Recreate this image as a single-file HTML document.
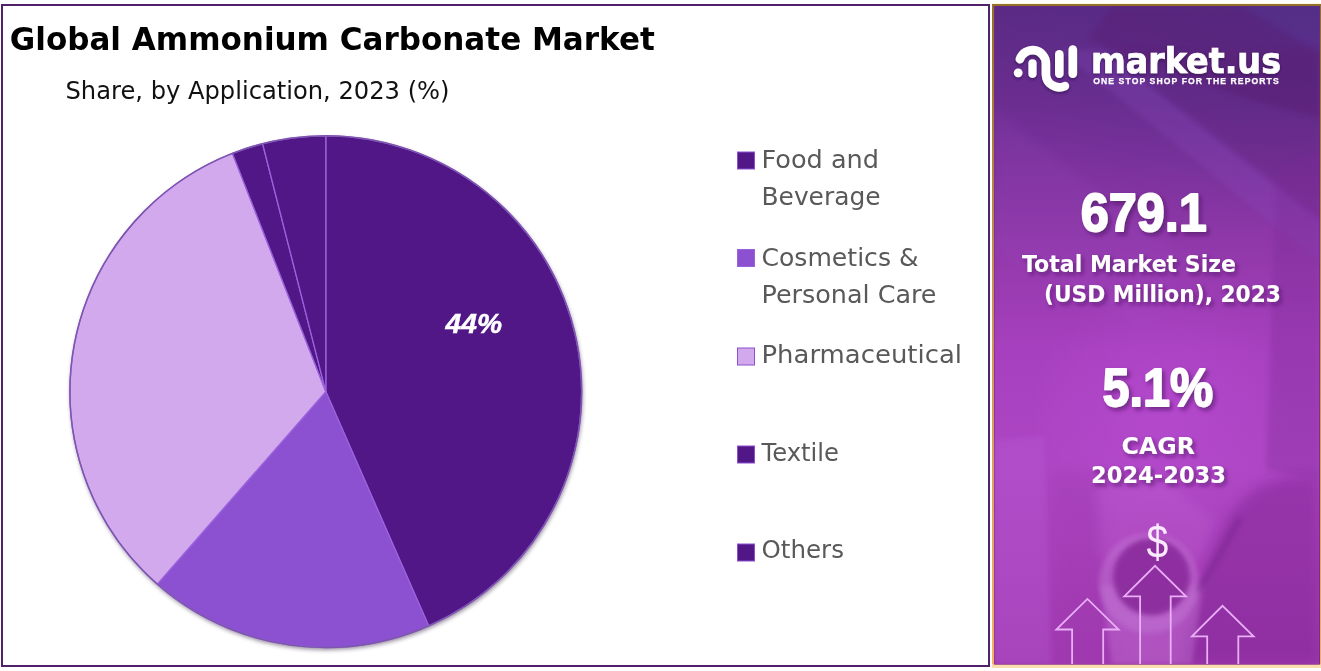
<!DOCTYPE html>
<html lang="en">
<head>
<meta charset="utf-8">
<title>Global Ammonium Carbonate Market</title>
<style>
html,body{margin:0;padding:0;background:#fff;}
body{width:1321px;height:671px;overflow:hidden;position:relative;font-family:"Liberation Sans",sans-serif;}
svg{position:absolute;left:0;top:0;display:block;}
text{font-family:"Liberation Sans",sans-serif;}
.dv, .dv text{font-family:"DejaVu Sans","Liberation Sans",sans-serif;}
</style>
</head>
<body>
<svg width="1321" height="671" viewBox="0 0 1321 671">
<defs>
  <linearGradient id="pbg" x1="0" y1="0" x2="0" y2="1">
    <stop offset="0" stop-color="#5a2a84"/>
    <stop offset="0.145" stop-color="#6b2d90"/>
    <stop offset="0.265" stop-color="#80339f"/>
    <stop offset="0.40" stop-color="#963aae"/>
    <stop offset="0.52" stop-color="#a740be"/>
    <stop offset="0.70" stop-color="#ae46c4"/>
    <stop offset="0.85" stop-color="#a840ba"/>
    <stop offset="1" stop-color="#a03ab0"/>
  </linearGradient>
  <linearGradient id="gold" x1="0" y1="0" x2="0" y2="1">
    <stop offset="0" stop-color="#94702a"/>
    <stop offset="0.45" stop-color="#c8945a"/>
    <stop offset="1" stop-color="#f2b464"/>
  </linearGradient>
  <filter id="pieShadow" x="-10%" y="-10%" width="120%" height="120%">
    <feGaussianBlur stdDeviation="2"/>
  </filter>
  <filter id="txtShadow" x="-20%" y="-20%" width="140%" height="160%">
    <feDropShadow dx="2.5" dy="3" stdDeviation="2" flood-color="#4a0a5e" flood-opacity="0.6"/>
  </filter>
  <filter id="logoShadow" x="-20%" y="-20%" width="140%" height="150%">
    <feDropShadow dx="0" dy="1.5" stdDeviation="1.8" flood-color="#2a0a4a" flood-opacity="0.7"/>
  </filter>
  <radialGradient id="trTint" cx="1" cy="0" r="1" gradientTransform="translate(0 0)">
    <stop offset="0" stop-color="#4a348c" stop-opacity="0.45"/>
    <stop offset="0.6" stop-color="#4a348c" stop-opacity="0.15"/>
    <stop offset="1" stop-color="#4a348c" stop-opacity="0"/>
  </radialGradient>
  <radialGradient id="glow" cx="0.5" cy="0.5" r="0.5">
    <stop offset="0" stop-color="#c050dc" stop-opacity="0.40"/>
    <stop offset="1" stop-color="#c050dc" stop-opacity="0"/>
  </radialGradient>
  <filter id="b3" x="-30%" y="-30%" width="160%" height="160%"><feGaussianBlur stdDeviation="2.5"/></filter>
  <filter id="b6" x="-30%" y="-30%" width="160%" height="160%"><feGaussianBlur stdDeviation="6"/></filter>
  <filter id="b10" x="-30%" y="-30%" width="160%" height="160%"><feGaussianBlur stdDeviation="10"/></filter>
  <clipPath id="panelClip"><rect x="994" y="6" width="326" height="658"/></clipPath>
</defs>

<!-- left frame -->
<rect x="2" y="5" width="987" height="661" fill="#ffffff" stroke="#50206a" stroke-width="2"/>

<!-- titles -->
<text x="9.8" y="50" class="dv" font-size="32.5" font-weight="700" fill="#000" textLength="645" lengthAdjust="spacingAndGlyphs">Global Ammonium Carbonate Market</text>
<text x="65.5" y="99" class="dv" font-size="24" fill="#111" textLength="384" lengthAdjust="spacingAndGlyphs">Share, by Application, 2023 (%)</text>

<!-- pie -->
<circle cx="326.6" cy="394" r="256" fill="#3a2a4a" opacity="0.55" filter="url(#pieShadow)"/>
<g id="pie" stroke="#9a62dc" stroke-width="1.3" stroke-linejoin="round">
<path d="M325.8,391.6 L325.80,135.80 A255.8,255.8 0 0 1 428.62,625.83 Z" fill="#511786"/>
<path d="M325.8,391.6 L428.62,625.83 A255.8,255.8 0 0 1 157.31,584.07 Z" fill="#8c51d0"/>
<path d="M325.8,391.6 L157.31,584.07 A255.8,255.8 0 0 1 232.46,153.44 Z" fill="#d3a9ee"/>
<path d="M325.8,391.6 L232.46,153.44 A255.8,255.8 0 0 1 262.62,143.73 Z" fill="#511786"/>
<path d="M325.8,391.6 L262.62,143.73 A255.8,255.8 0 0 1 325.80,135.80 Z" fill="#511786"/>
</g>
<circle cx="325.8" cy="391.6" r="255.9" fill="none" stroke="#7c56ae" stroke-width="1.5"/>
<text x="445.5" y="333" font-size="27" font-weight="700" font-style="italic" fill="#fff" stroke="#fff" stroke-width="0.5" textLength="56.5" lengthAdjust="spacingAndGlyphs">44%</text>

<!-- legend -->
<g class="dv" font-size="24" fill="#595959">
  <rect x="737.5" y="152" width="17" height="17" fill="#511786" stroke="#8c51d0" stroke-width="1"/>
  <text x="761.5" y="168.2" textLength="117.5" lengthAdjust="spacingAndGlyphs">Food and</text>
  <text x="761.5" y="204.5" textLength="119" lengthAdjust="spacingAndGlyphs">Beverage</text>

  <rect x="737.5" y="249.5" width="17" height="17" fill="#8c51d0" stroke="#9a62dc" stroke-width="1"/>
  <text x="761.5" y="265.7" textLength="157" lengthAdjust="spacingAndGlyphs">Cosmetics &amp;</text>
  <text x="761.5" y="302.9" textLength="175" lengthAdjust="spacingAndGlyphs">Personal Care</text>

  <rect x="737.5" y="348" width="17" height="17" fill="#d3a9ee" stroke="#8c51d0" stroke-width="1"/>
  <text x="761.5" y="363.4" textLength="200.5" lengthAdjust="spacingAndGlyphs">Pharmaceutical</text>

  <rect x="737.5" y="446" width="17" height="17" fill="#511786" stroke="#8c51d0" stroke-width="1"/>
  <text x="761.5" y="461.4" textLength="77.5" lengthAdjust="spacingAndGlyphs">Textile</text>

  <rect x="737.5" y="544" width="17" height="17" fill="#511786" stroke="#8c51d0" stroke-width="1"/>
  <text x="761.5" y="558.3" textLength="82.5" lengthAdjust="spacingAndGlyphs">Others</text>
</g>

<!-- right panel -->
<rect x="992" y="4" width="329" height="663" fill="url(#gold)"/>
<rect x="992" y="3.4" width="329" height="0.8" fill="#fff6d2"/>
<rect x="992" y="4" width="329" height="2.2" fill="#94702a"/>
<rect x="992" y="664.4" width="329" height="3.6" fill="#fadfae"/>
<rect x="994" y="6" width="326" height="658.5" fill="#7a2a80"/>
<rect x="994.6" y="6.2" width="324.6" height="658.2" fill="url(#pbg)"/>
<g clip-path="url(#panelClip)" id="panelbg">
  <!-- top-right cool tint -->
  <rect x="994" y="6" width="326" height="230" fill="url(#trTint)"/>
  <!-- dark paper top centre -->
  <polygon points="1088,40 1112,6 1240,6 1320,52 1320,118 1250,100" fill="#581c70" opacity="0.40" filter="url(#b3)"/>
  <!-- diagonal bands -->
  <polygon points="1060,50 1104,50 1320,222 1320,262" fill="#9050c4" opacity="0.22" filter="url(#b3)"/>
  <polygon points="1110,50 1320,50 1320,218" fill="#5a1c6c" opacity="0.20" filter="url(#b3)"/>
  <polygon points="994,110 1190,260 1150,330 994,250" fill="#a050c8" opacity="0.14" filter="url(#b6)"/>
  <!-- centre glow -->
  <ellipse cx="1160" cy="410" rx="130" ry="120" fill="url(#glow)"/>
  <!-- right darker column mid -->
  <polygon points="1276,170 1320,150 1320,480 1266,470" fill="#7a2a96" opacity="0.30" filter="url(#b3)"/>
  <!-- lower-left light paper -->
  <polygon points="994,440 1044,436 1052,664 994,664" fill="#b85cd4" opacity="0.32" filter="url(#b3)"/>
  <polygon points="1052,470 1100,470 1120,664 1052,664" fill="#9a34a8" opacity="0.22" filter="url(#b6)"/>
  <polygon points="1095,484 1170,484 1215,520 1200,560 1100,560" fill="#c66cd8" opacity="0.25" filter="url(#b6)"/>
  <!-- arm / dark shape lower right -->
  <path d="M1320,478 C1280,470 1250,488 1232,512 C1205,560 1188,610 1180,664 L1320,664 Z" fill="#7c2490" opacity="0.45" filter="url(#b6)"/>
  <!-- mug body -->
  <path d="M1101,585 L1112,664 L1192,664 L1203,585 Z" fill="#c77ad8" opacity="0.38" filter="url(#b3)"/>
  <!-- cup -->
  <circle cx="1149" cy="583" r="50" fill="#c47ad6" opacity="0.45" filter="url(#b3)"/>
  <circle cx="1151.5" cy="577" r="38.5" fill="#8a2a9c" opacity="0.9" filter="url(#b3)"/>
  <!-- pen -->
  <path d="M1240,518 L1198,592" stroke="#74208a" stroke-width="6" opacity="0.45" filter="url(#b3)" fill="none"/>
</g>

<!-- logo -->
<g filter="url(#logoShadow)">
  <g fill="none" stroke="#fff" stroke-width="8.6" stroke-linecap="round" stroke-linejoin="round">
    <path d="M1019.9,59.2 A13.35,13.35 0 0 1 1045.9,63.6 L1045.9,74 A13.4,13.4 0 0 0 1064.9,86.1"/>
    <path d="M1032.5,63.3 L1032.5,73.8" stroke-width="8.2"/>
    <path d="M1059.3,54.4 L1059.3,73.8"/>
    <path d="M1072.8,49.5 L1072.8,73.8"/>
  </g>
  <circle cx="1018.2" cy="72.8" r="4.4" fill="#fff"/>
  <text class="dv" x="1091" y="72.7" font-size="35" font-weight="700" fill="#fff" stroke="#fff" stroke-width="0.7" textLength="190" lengthAdjust="spacingAndGlyphs">market.us</text>
</g>
<text x="1093.2" y="84.1" font-size="8.6" font-weight="700" fill="#fff" stroke="#fff" stroke-width="0.25" textLength="185.5" lengthAdjust="spacing">ONE STOP SHOP FOR THE REPORTS</text>

<!-- numbers -->
<g fill="#fff" font-weight="700" filter="url(#txtShadow)">
  <text x="1080.8" y="230.8" font-size="54" stroke="#fff" stroke-width="1.8" stroke-linejoin="round" textLength="126" lengthAdjust="spacingAndGlyphs">679.1</text>
  <text class="dv" x="1022" y="271.5" font-size="23" textLength="214" lengthAdjust="spacingAndGlyphs">Total Market Size</text>
  <text class="dv" x="1044" y="302.4" font-size="23" textLength="237" lengthAdjust="spacingAndGlyphs">(USD Million), 2023</text>
  <text x="1102.6" y="406.2" font-size="54" stroke="#fff" stroke-width="1.8" stroke-linejoin="round" textLength="110.5" lengthAdjust="spacingAndGlyphs">5.1%</text>
  <text class="dv" x="1121.5" y="454" font-size="22.5" textLength="73.5" lengthAdjust="spacingAndGlyphs">CAGR</text>
  <text class="dv" x="1091" y="482.9" font-size="22.5" textLength="135" lengthAdjust="spacingAndGlyphs">2024-2033</text>
</g>

<!-- dollar + arrows -->
<text x="1146.6" y="558.3" font-size="47" fill="#fbeaff" textLength="21.8" lengthAdjust="spacingAndGlyphs">$</text>
<g fill="none" stroke="#e9aef6" stroke-width="1.8" stroke-linejoin="miter">
  <path d="M1140.1,664 L1140.1,596.4 L1124.3,596.4 L1155,565.8 L1186,596.4 L1170.7,596.4 L1170.7,664"/>
  <path d="M1072.1,664 L1072.1,629.5 L1056.3,629.5 L1087.4,598.9 L1118.7,629.5 L1103.2,629.5 L1103.2,664"/>
  <path d="M1207.2,664 L1207.2,636.4 L1191.9,636.4 L1222.5,605.8 L1253.6,636.4 L1238.3,636.4 L1238.3,664"/>
</g>
</svg>
</body>
</html>
